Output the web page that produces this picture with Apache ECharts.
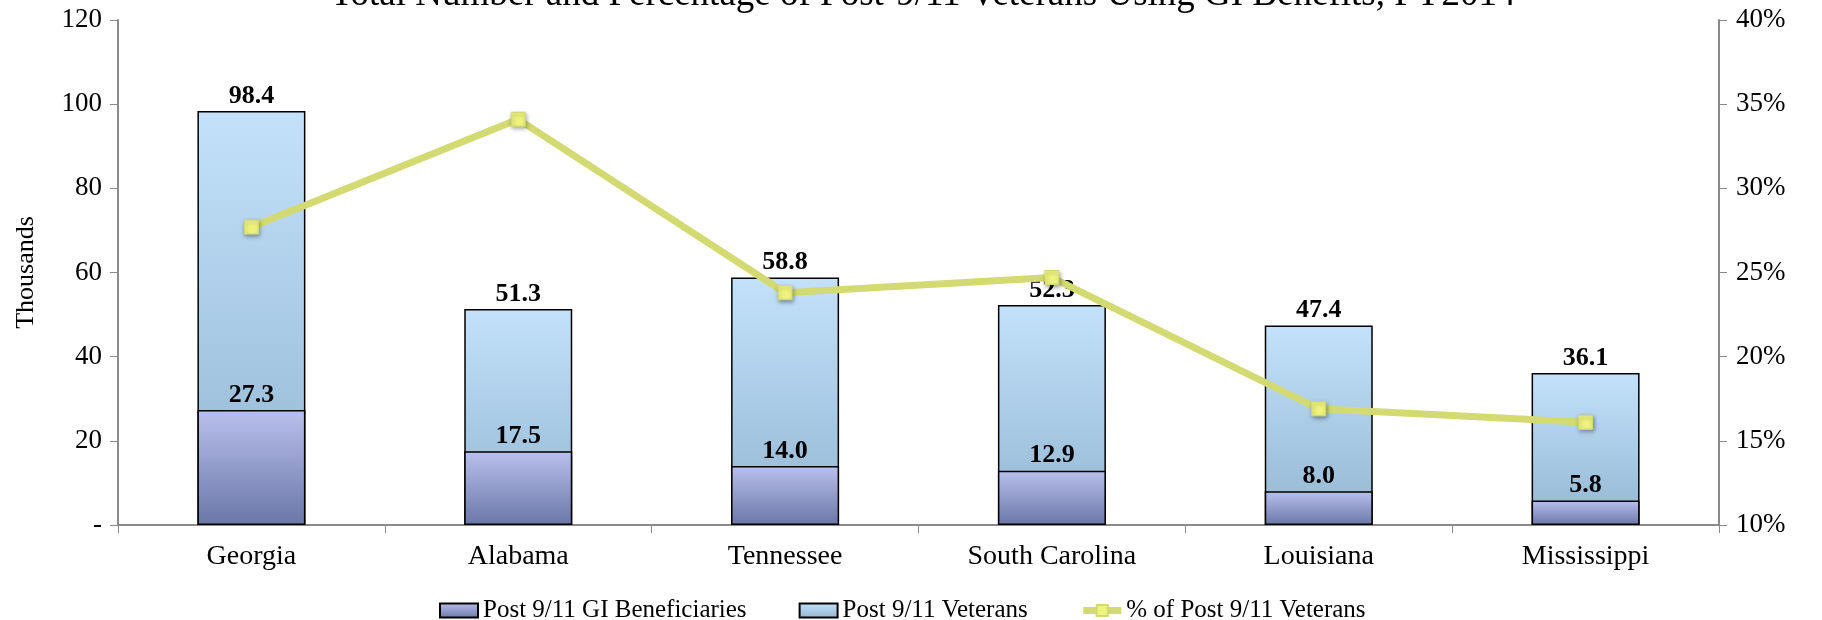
<!DOCTYPE html>
<html><head><meta charset="utf-8">
<script src="https://cdn.jsdelivr.net/npm/echarts@6/dist/echarts.min.js"></script>
<style>html,body{margin:0;padding:0;background:#fff}#c{width:1822px;height:620px}</style>
</head><body><div id="c"></div>
<script>
var categories = ['Georgia','Alabama','Tennessee','South Carolina','Louisiana','Mississippi'];
var beneficiaries = [27.3, 17.5, 14.0, 12.9, 8.0, 5.8];
var veterans = [98.4, 51.3, 58.8, 52.3, 47.4, 36.1];
var percentUsing = [27.7, 34.1, 23.8, 24.7, 16.9, 16.1];
var leftTicks = [0, 20, 40, 60, 80, 100, 120];
var rightTicks = [10, 15, 20, 25, 30, 35, 40];

var FONT = '"Liberation Serif", "Times New Roman", serif';
var chart = echarts.init(document.getElementById('c'));
function grad(top, bottom){
  return new echarts.graphic.LinearGradient(0,0,0,1,[{offset:0,color:top},{offset:1,color:bottom}]);
}
var axisLineStyle = {color:'#8a8a8a', width:2};
chart.setOption({
  animation:false,
  textStyle:{fontFamily:FONT},
  title:{
    text:'Total Number and Percentage of Post-9/11 Veterans Using GI Benefits, FY2014',
    left:918, top:-28, textAlign:'center',
    textStyle:{fontFamily:FONT, fontSize:37, fontWeight:'normal', color:'#000'}
  },
  legend:{
    top:593, left:434, itemGap:52, itemWidth:38, itemHeight:14,
    textStyle:{fontFamily:FONT, fontSize:25, color:'#000'},
    data:[
      {name:'Post 9/11 GI Beneficiaries', icon:'rect'},
      {name:'Post 9/11 Veterans', icon:'rect'},
      {name:'% of Post 9/11 Veterans', lineStyle:{width:7, color:'#d3da72'}}
    ]
  },
  grid:{left:118, right:103, top:20, bottom:95, containLabel:false},
  xAxis:{
    type:'category', data:categories,
    axisLine:{lineStyle:axisLineStyle},
    axisTick:{show:true, alignWithLabel:false, length:8, lineStyle:{color:'#8a8a8a', width:1}},
    axisLabel:{fontFamily:FONT, fontSize:28, color:'#000', margin:18}
  },
  yAxis:[{
    type:'value', min:leftTicks[0], max:leftTicks[leftTicks.length-1], interval:20,
    name:'Thousands', nameLocation:'middle', nameGap:79, nameRotate:90,
    nameTextStyle:{fontFamily:FONT, fontSize:26, color:'#000'},
    axisLine:{show:true, lineStyle:axisLineStyle},
    axisTick:{show:true, length:8, lineStyle:{color:'#8a8a8a', width:1}},
    splitLine:{show:false},
    axisLabel:{fontFamily:FONT, fontSize:27, color:'#000', margin:16,
      formatter:function(v){return v===0?'-':String(v);}}
  },{
    type:'value', min:rightTicks[0], max:rightTicks[rightTicks.length-1], interval:5,
    position:'right',
    axisLine:{show:true, lineStyle:axisLineStyle},
    axisTick:{show:true, length:8, lineStyle:{color:'#8a8a8a', width:1}},
    splitLine:{show:false},
    axisLabel:{fontFamily:FONT, fontSize:27, color:'#000', margin:17,
      formatter:function(v){return v+'%';}}
  }],
  series:[{
    name:'Post 9/11 Veterans', type:'bar', data:veterans, barWidth:108, z:2,
    itemStyle:{color:grad('#c3e1fb','#93b6d1'), borderColor:'#000', borderWidth:1.5},
    label:{show:true, position:'top', distance:2, fontFamily:FONT, fontSize:26, fontWeight:'bold', color:'#000',
      formatter:function(p){return p.value.toFixed(1);}}
  },{
    name:'Post 9/11 GI Beneficiaries', type:'bar', data:beneficiaries, barWidth:108, barGap:'-100%', z:3,
    itemStyle:{color:grad('#b9c0ec','#6a77a8'), borderColor:'#000', borderWidth:1.5},
    label:{show:true, position:'top', distance:2, fontFamily:FONT, fontSize:26, fontWeight:'bold', color:'#000',
      formatter:function(p){return p.value.toFixed(1);}}
  },{
    name:'% of Post 9/11 Veterans', type:'line', yAxisIndex:1, data:percentUsing, z:5,
    lineStyle:{color:'#d3da72', width:7},
    symbol:'rect', symbolSize:14,
    itemStyle:{color:'#eef47e', borderColor:'#d3da72', borderWidth:1, shadowColor:'rgba(0,0,0,0.35)', shadowBlur:4, shadowOffsetX:1, shadowOffsetY:2}
  }]
});
</script></body></html>
